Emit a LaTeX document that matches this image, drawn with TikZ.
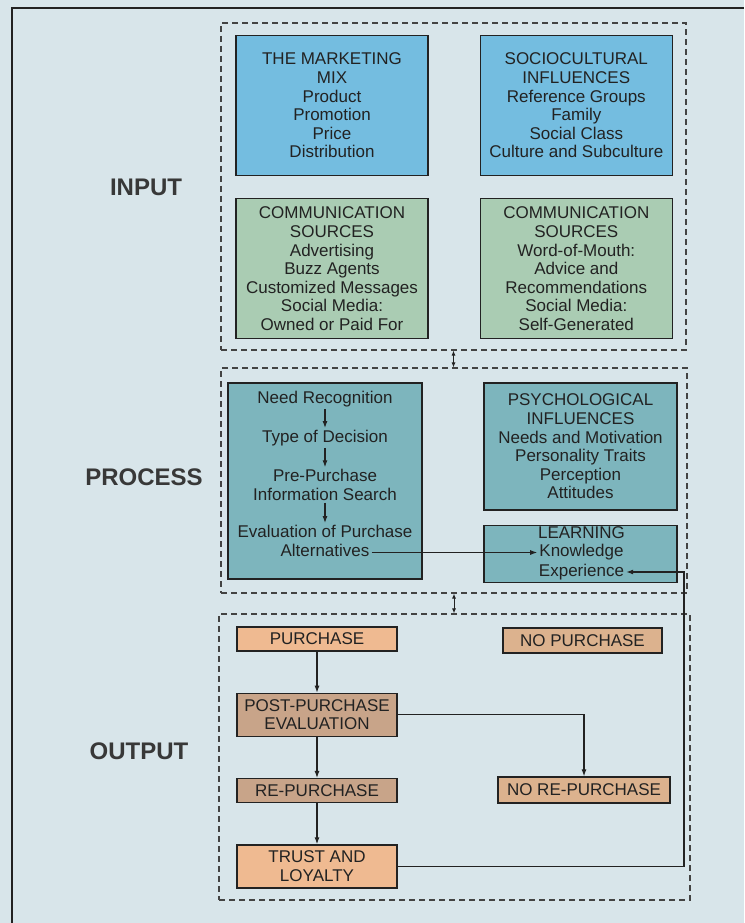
\documentclass[tikz,border=0pt]{standalone}
\usepackage{fontspec}
\setmainfont{Liberation Sans}
\usetikzlibrary{positioning,arrows.meta}
\definecolor{CBBg}{HTML}{D8E5EA}
\definecolor{CBBlue}{HTML}{74BDE0}
\definecolor{CBGreen}{HTML}{AACCB3}
\definecolor{CBTeal}{HTML}{7DB5BD}
\definecolor{CBPeach}{HTML}{EFBA91}
\definecolor{CBTan}{HTML}{C8A489}
\definecolor{CBSand}{HTML}{DCB28E}
\definecolor{CBInk}{HTML}{222222}

\begin{document}
\begin{tikzpicture}[
  x=1pt, y=-1pt,
  node distance=22pt and 51pt,
  box/.style={draw=CBInk, line width=1.3pt, align=center, inner sep=0pt, font=\fontsize{17}{18.6}\selectfont, text=CBInk},
  inbox/.style={box, minimum width=192pt, minimum height=140pt},
  outbox/.style={box, minimum width=160pt, minimum height=24pt},
  txt/.style={font=\fontsize{17}{18.6}\selectfont, text=CBInk, inner sep=2pt, text height=12pt, text depth=3.5pt},
  txtlines/.style={font=\fontsize{17}{18.6}\selectfont, text=CBInk, inner sep=2pt, align=center},
  group/.style={draw=CBInk!85, line width=1.1pt, dash pattern=on 6pt off 4pt, inner sep=0pt},
  stage/.style={font=\fontsize{24}{28}\selectfont\bfseries, text=CBInk!90},
  arrow/.style={-{Latex[length=7pt,width=5pt]}, line width=1.1pt, CBInk},
  link/.style={{Latex[length=5pt,width=4pt]}-{Latex[length=5pt,width=4pt]}, line width=1pt, CBInk}
]
\useasboundingbox (0,0) rectangle (744,923);
\fill[CBBg] (0,0) rectangle (744,923);
\draw[line width=2pt, CBInk] (12,923) -- (12,8) -- (744,8);

% stages
\node[group, minimum width=465pt, minimum height=327pt] (input) at (453.5,186.5) {};
\node[group, minimum width=466pt, minimum height=225pt] (process) at (454,480.5) {};
\node[group, minimum width=471pt, minimum height=286pt] (output) at (454.5,757) {};
\node[stage] (inlabel) at (146,187) {INPUT};
\node[stage] (proclabel) at (144,477) {PROCESS};
\node[stage] (outlabel) at (139,751) {OUTPUT};

% input
\node[inbox, fill=CBBlue] (mix) at (332,105.5) {THE MARKETING\\MIX\\Product\\Promotion\\Price\\Distribution};
\node[inbox, fill=CBBlue, right=of mix] (socio) {SOCIOCULTURAL\\INFLUENCES\\Reference Groups\\Family\\Social Class\\Culture and Subculture};
\node[inbox, fill=CBGreen, below=of mix] (compaid) {COMMUNICATION\\SOURCES\\Advertising\\Buzz Agents\\Customized Messages\\Social Media:\\Owned or Paid For};
\node[inbox, fill=CBGreen, below=of socio] (comself) {COMMUNICATION\\SOURCES\\Word-of-Mouth:\\Advice and\\Recommendations\\Social Media:\\Self-Generated};

% process
\node[box, fill=CBTeal, minimum width=194pt, minimum height=196pt] (decide) at (325,481) {};
\node[txt] (need) at (325,399) {Need Recognition};
\node[txt] (kind) at (325,438) {Type of Decision};
\node[txtlines] (search) at (325,485) {Pre-Purchase\\Information Search};
\node[txt] (evalu) at (325,533) {Evaluation of Purchase};
\node[txt] (alt) at (325,552.5) {Alternatives};
\node[box, fill=CBTeal, minimum width=193pt, minimum height=127pt] (psych) at (580.5,446.5) {PSYCHOLOGICAL\\INFLUENCES\\Needs and Motivation\\Personality Traits\\Perception\\Attitudes};
\node[box, fill=CBTeal, minimum width=193pt, minimum height=57pt, below=14pt of psych] (learn) {};
\node[txt] (learntitle) at (581.5,534) {LEARNING};
\node[txt] (know) at (581.5,552.5) {Knowledge};
\node[txt] (exper) at (581.5,572) {Experience};
\coordinate (loop) at (684,572);

% output
\node[outbox, fill=CBPeach] (buy) at (317,639) {PURCHASE};
\node[outbox, fill=CBTan, minimum height=43pt, below=41pt of buy] (post) {POST-PURCHASE\\EVALUATION};
\node[outbox, fill=CBTan, below=41pt of post] (rebuy) {RE-PURCHASE};
\node[outbox, fill=CBPeach, minimum height=43pt, below=41pt of rebuy] (trust) {TRUST AND\\LOYALTY};
\node[outbox, fill=CBSand, minimum width=159pt, minimum height=25pt] (nobuy) at (582.5,640.5) {NO PURCHASE};
\node[outbox, fill=CBSand, minimum width=172pt, minimum height=26pt] (norebuy) at (584,790) {NO RE-PURCHASE};

\draw[link] (input.south) -- (input.south |- process.north);
\draw[link] (process.south) -- (process.south |- output.north);
\draw[arrow] (need) -- (kind);
\draw[arrow] (kind) -- (search);
\draw[arrow] (search) -- (evalu);
\draw[arrow] (alt.east) -- (know.west);
\draw[arrow] (buy) -- (post);
\draw[arrow] (post) -- (rebuy);
\draw[arrow] (rebuy) -- (trust);
\draw[arrow] (post.east) -| (norebuy.north);
\draw[arrow] (trust.east) -| (loop) -- (exper.east);
\end{tikzpicture}
\end{document}
